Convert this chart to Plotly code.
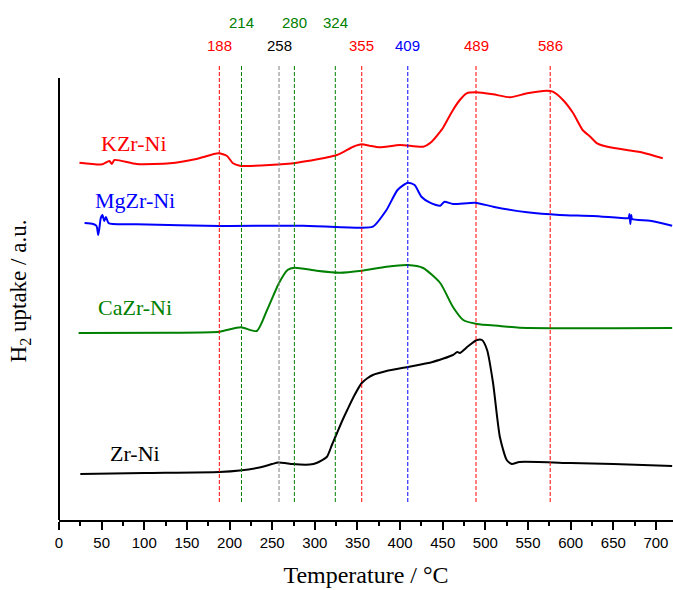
import plotly.graph_objects as go

# ---- data (temperature in °C, H2 signal in arbitrary units with vertical offsets) ----
zr_T = [25, 100, 188, 212, 235, 250, 257, 265, 274, 294, 302, 314, 320, 326, 332, 338, 346, 355, 362, 368,
        384, 409, 438, 462, 467, 470, 480, 490, 496, 502, 509, 517, 525, 531, 540, 600, 650, 719]
zr_y = [46, 47, 48, 49.5, 52.5, 56, 57.5, 57, 56, 55.5, 57, 63, 75, 87, 99, 110, 124, 137, 142, 145,
        149, 153, 158, 165, 168, 167, 174, 180, 180, 170, 137, 83, 60, 56, 58, 57, 56, 54]

ca_T = [23, 133, 188, 213, 232, 244, 258, 268, 276, 302, 329, 355, 384, 409, 427, 447, 462, 474, 490,
        517, 540, 719]
ca_y = [187, 187.3, 188.3, 192.7, 189, 210, 237, 250, 252.3, 249.3, 247.3, 249.3, 253.3, 255, 252, 237,
        213, 200, 196, 194, 192.3, 192]

mg_T = [30, 40, 44, 46, 47.5, 49, 51, 53, 55, 58, 63, 91, 188, 286, 353, 368, 384, 397, 409, 417, 425,
        435, 447, 452, 462, 488, 509, 549, 587, 626, 666, 668, 669, 670, 671, 672, 693, 719]
mg_y = [297, 296, 294, 285, 293, 302, 305, 299, 303, 297, 296, 295.7, 294, 294.3, 292.3, 293.3, 310, 330,
        337.3, 335, 323.3, 317.3, 314.3, 318.3, 316, 317.3, 313.3, 307.7, 305, 304, 301.7, 302, 306, 296,
        305, 301, 299.3, 294.3]

k_T = [24, 51, 59, 62, 65, 91, 130, 161, 187, 197, 204, 212, 247, 279, 326, 345, 355, 364, 376, 400, 427,
       437, 447, 450, 462, 470, 478, 489, 509, 529, 549, 572, 579, 591, 603, 614, 623, 631, 646, 666, 685, 708]
k_y = [357.3, 355.7, 359, 356, 360, 356, 356.7, 361, 366.7, 364, 356.7, 354.3, 355, 357.3, 365, 373.3,
       375.7, 374.3, 372.7, 375, 373.3, 378.3, 388.3, 391.7, 410, 420, 426.7, 427.7, 425.7, 422.7, 426.7,
       429.3, 428.3, 420, 406.7, 390, 383.3, 376.7, 372.7, 370, 367.3, 361.7]

series_names = ["KZr-Ni", "MgZr-Ni", "CaZr-Ni", "Zr-Ni"]
series_colors = ["#FF0000", "#0000FF", "#008000", "#000000"]
series_T = [k_T, mg_T, ca_T, zr_T]
series_y = [k_y, mg_y, ca_y, zr_y]
label_T = [88, 89, 89, 89]
label_y = [377, 320, 213, 67]

peak_pos = [188, 214, 258, 276, 324, 355, 409, 489, 576]
peak_text = ["188", "214", "258", "280", "324", "355", "409", "489", "586"]
peak_colors = ["#FF0000", "#008000", "#000000", "#008000", "#008000", "#FF0000", "#0000FF", "#FF0000", "#FF0000"]
peak_row = [0, 1, 0, 1, 1, 0, 0, 0, 0]   # 1 = upper row
line_colors = ["#FF0000", "#008000", "#808080", "#008000", "#008000", "#FF0000", "#0000FF", "#FF0000", "#FF0000"]

PLOT_H = 458.0

fig = go.Figure()
for name, c, T, y in zip(series_names, series_colors, series_T, series_y):
    fig.add_trace(go.Scatter(x=T, y=y, mode="lines", name=name,
                             line=dict(color=c, width=2, shape="spline", smoothing=0.6)))

shapes = []
annotations = []
for p, t, c, r, lc in zip(peak_pos, peak_text, peak_colors, peak_row, line_colors):
    shapes.append(dict(type="line", xref="x", yref="paper", x0=p, x1=p, y0=18 / PLOT_H, y1=455 / PLOT_H,
                       line=dict(color=lc, width=1, dash="4px,2px")))
    ypix = 46 if r == 0 else 22
    annotations.append(dict(x=p, y=(520 - ypix) / PLOT_H, xref="x", yref="paper", text=t, showarrow=False,
                            font=dict(family="Liberation Sans, Arial", size=15, color=c),
                            xanchor="center", yanchor="middle"))

for name, c, lx, ly in zip(series_names, series_colors, label_T, label_y):
    annotations.append(dict(x=lx, y=ly, xref="x", yref="y", text=name, showarrow=False,
                            font=dict(family="Liberation Serif, Times New Roman", size=22, color=c),
                            xanchor="center", yanchor="middle"))

# left axis line drawn manually
shapes.append(dict(type="line", xref="paper", yref="paper", x0=0, x1=0, y0=0, y1=(520 - 78) / PLOT_H,
                   line=dict(color="black", width=2)))

fig.update_layout(
    width=673, height=590,
    margin=dict(l=59, r=0, t=62, b=70),
    paper_bgcolor="white", plot_bgcolor="white",
    showlegend=False,
    shapes=shapes,
    annotations=annotations,
    xaxis=dict(range=[0, 720], tickmode="array", tickvals=list(range(0, 701, 50)),
               ticks="outside", ticklen=8, tickwidth=2, tickcolor="black",
               minor=dict(tickvals=list(range(25, 701, 50)), ticks="outside", ticklen=4, tickwidth=2,
                          tickcolor="black"),
               showline=True, linecolor="black", linewidth=2, showgrid=False, zeroline=False,
               tickfont=dict(family="Liberation Sans, Arial", size=15, color="black"),
               title=dict(text="Temperature / °C", standoff=16,
                          font=dict(family="Liberation Serif, Times New Roman", size=24, color="black"))),
    yaxis=dict(range=[0, PLOT_H], showticklabels=False, ticks="", showline=False, showgrid=False,
               zeroline=False,
               title=dict(text="H<sub>2</sub> uptake / a.u.", standoff=24,
                          font=dict(family="Liberation Serif, Times New Roman", size=23, color="black"))),
)

fig.write_html("out.html")
